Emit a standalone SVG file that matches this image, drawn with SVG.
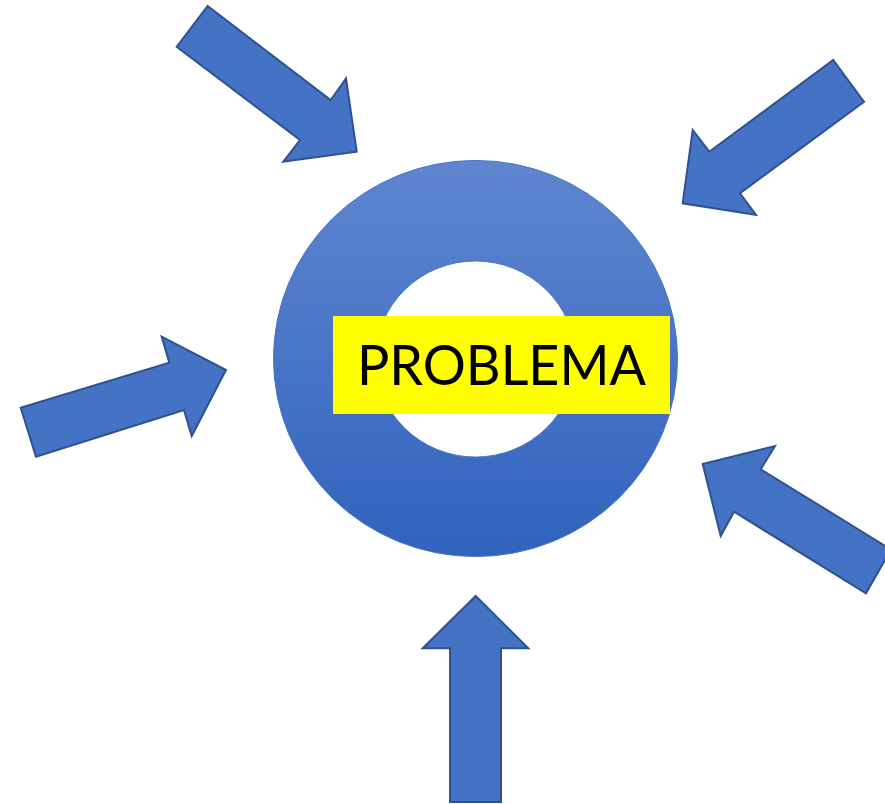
<svg xmlns="http://www.w3.org/2000/svg" width="885" height="804" viewBox="0 0 885 804">
  <style>
    .arrow { fill: #4472c4; stroke: #2f528f; stroke-width: 2; stroke-linejoin: miter; }
    .label { font-family: Lato, "Liberation Sans", sans-serif; font-size: 57px; fill: #000000; }
  </style>
  <defs>
    <linearGradient id="donutGrad" x1="0" y1="0" x2="0" y2="1">
      <stop offset="0" stop-color="#5f86cf"/>
      <stop offset="1" stop-color="#3063bd"/>
    </linearGradient>
  </defs>
  <rect width="885" height="804" fill="#ffffff"/>
  <g id="donut">
    <path fill="url(#donutGrad)" fill-rule="evenodd" stroke="#4a74c2" stroke-width="1"
      d="M273.5,358.5 A202,198 0 1,0 677.5,358.5 A202,198 0 1,0 273.5,358.5 Z
         M375.5,359 A100,98 0 1,0 575.5,359 A100,98 0 1,0 375.5,359 Z"/>
  </g>
  <g id="problema">
    <rect x="333" y="316" width="337" height="98" fill="#ffff00"/>
    <text class="label" x="501.5" y="385" text-anchor="middle" textLength="289" lengthAdjust="spacingAndGlyphs">PROBLEMA</text>
  </g>
  <g id="connectors">
    <polygon id="arrow-top-left" class="arrow" points="207.7,6 330.7,100 346,78.3 356.7,151.7 283.3,161.7 300,140 176.7,46.7"/>
    <polygon id="arrow-top-right" class="arrow" points="833.3,60 864,101.7 740,193.3 756,215 682.7,203.3 692.7,130 709.3,151.7"/>
    <polygon id="arrow-left" class="arrow" points="20.7,407.7 169.3,362.7 161.7,336.7 226,370 191.7,436 184,410 36,456.7"/>
    <polygon id="arrow-bottom-right" class="arrow" points="702.7,464 775,446 760.7,469.3 891,549.5 866,593.3 734,511.7 720.7,536"/>
    <polygon id="arrow-bottom" class="arrow" points="475.7,596 528.3,648.3 501,648.3 501,802 450,802 450,648.3 422.7,648.3"/>
  </g>
</svg>
